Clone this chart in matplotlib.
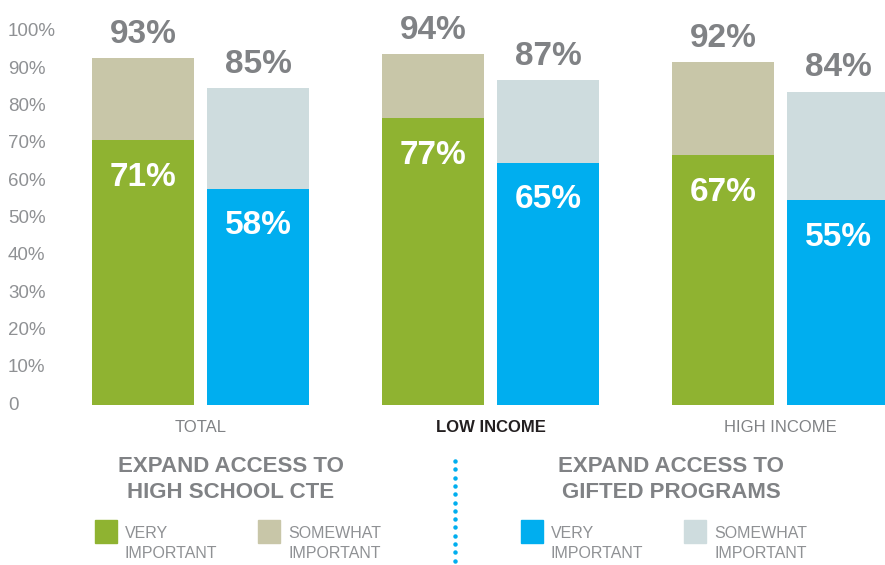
import matplotlib
matplotlib.use("Agg")
from matplotlib import pyplot as plt
from matplotlib import transforms
import numpy as np

groups = ["TOTAL", "LOW INCOME", "HIGH INCOME"]
cte_very = [71, 77, 67]
cte_total = [93, 94, 92]
gifted_very = [58, 65, 55]
gifted_total = [85, 87, 84]
yticks = [0, 10, 20, 30, 40, 50, 60, 70, 80, 90, 100]

GREEN = "#8fb331"
TAN = "#c8c6a8"
BLUE = "#00aeef"
PALE = "#cedcde"
GREY = "#808285"
TICK_GREY = "#8f9194"

plt.rcParams["font.family"] = ["Liberation Sans", "DejaVu Sans"]

W, H = 885, 565
fig = plt.figure(figsize=(W / 100, H / 100), dpi=100)


def fx(px):
    return px / W


def fy(py):
    return 1 - py / H


# bars live in an axes spanning the full width; y=0 sits at pixel 405
y0_px, y100_px = 405, 32
ax = fig.add_axes([0, fy(y0_px), 1, (y0_px - y100_px) / H])
spacing = 290.0
x_lo = -200.5 / spacing
ax.set_xlim(x_lo, x_lo + W / spacing)
ax.set_ylim(0, 100)
ax.axis("off")

x = np.arange(len(groups))
bw = 102 / spacing
off = 57.5 / spacing

ax.bar(x - off, cte_very, bw, color=GREEN, zorder=2)
ax.bar(x - off, np.array(cte_total) - np.array(cte_very), bw,
       bottom=cte_very, color=TAN, zorder=2)
ax.bar(x + off, gifted_very, bw, color=BLUE, zorder=2)
ax.bar(x + off, np.array(gifted_total) - np.array(gifted_very), bw,
       bottom=gifted_very, color=PALE, zorder=2)


def label(xs, vals, dy, col):
    for xi, v in zip(xs, vals):
        ax.annotate(f"{v}%", (xi, v), xytext=(0, dy),
                    textcoords="offset points", ha="center", va="baseline",
                    fontsize=24, fontweight="bold", color=col,
                    annotation_clip=False)


label(x - off, cte_total, 11, GREY)
label(x + off, gifted_total, 11, GREY)
label(x - off, cte_very, -33, "white")
label(x + off, gifted_very, -33, "white")

# y tick labels pinned to the left edge
ytrans = transforms.blended_transform_factory(fig.transFigure, ax.transData)
for t in yticks:
    lab = "0" if t == 0 else f"{t}%"
    ax.text(fx(8), t, lab, transform=ytrans, ha="left", va="center",
            fontsize=13.5, color=TICK_GREY)

# group names under the bars
xtrans = transforms.blended_transform_factory(ax.transData, fig.transFigure)
for i, g in enumerate(groups):
    bold = g == "LOW INCOME"
    ax.text(x[i], fy(428), g, transform=xtrans, ha="center", va="center",
            fontsize=12, color="#231f20" if bold else GREY,
            fontweight="bold" if bold else "normal")

# section titles
for cx, lines in [(231, ["EXPAND ACCESS TO", "HIGH SCHOOL CTE"]),
                  (671, ["EXPAND ACCESS TO", "GIFTED PROGRAMS"])]:
    for ly, line in zip([466, 493], lines):
        fig.text(fx(cx), fy(ly), line, ha="center", va="center",
                 fontsize=16, fontweight="bold", color=GREY)

# dotted divider
ys = np.arange(461, 566, 8.3)
fig.lines.append(plt.Line2D([fx(455)] * len(ys), [fy(v) for v in ys],
                            transform=fig.transFigure, linestyle="none",
                            marker="o", markersize=2.2, color=BLUE))

# legends
legend_items = [(95, GREEN, "VERY", "IMPORTANT"),
                (258, TAN, "SOMEWHAT", "IMPORTANT"),
                (521, BLUE, "VERY", "IMPORTANT"),
                (684, PALE, "SOMEWHAT", "IMPORTANT")]
for lx, col, l1, l2 in legend_items:
    fig.patches.append(plt.Rectangle((fx(lx), fy(543)), fx(22), 23 / H,
                                     transform=fig.transFigure, color=col))
    fig.text(fx(lx + 30), fy(534), l1, ha="left", va="center",
             fontsize=11.5, color=TICK_GREY)
    fig.text(fx(lx + 30), fy(553), l2, ha="left", va="center",
             fontsize=11.5, color=TICK_GREY)

fig.savefig("out.png", dpi=100)
